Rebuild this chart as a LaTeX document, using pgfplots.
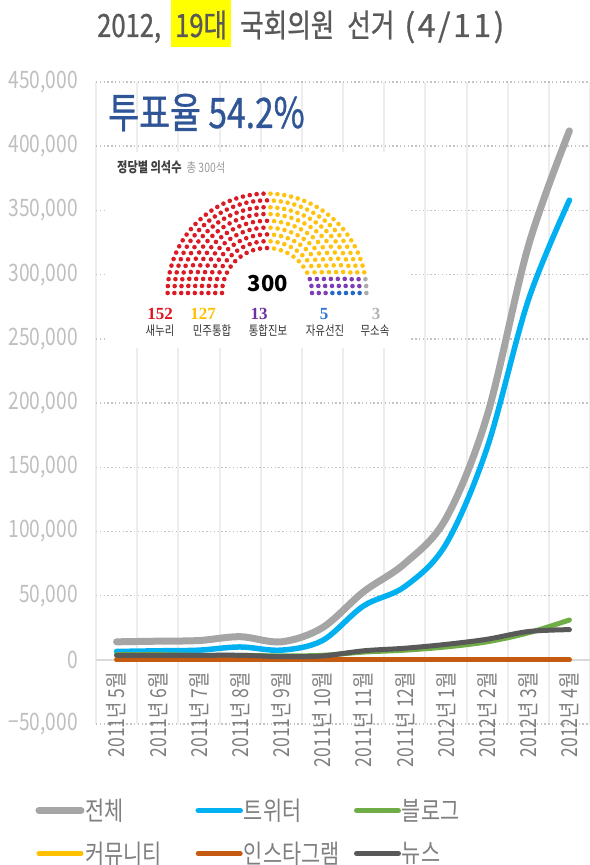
\documentclass[border=0pt]{standalone}
\usepackage{fontspec}
\usepackage{pgfplots}
\pgfplotsset{compat=1.18}
\setmainfont{Noto Sans CJK KR}[FakeStretch=0.8]
\newfontfamily\plainfont{Noto Sans CJK KR}
\newfontfamily\medfont{Noto Sans CJK KR}[FakeStretch=0.8, FakeBold=0.8]
\newfontfamily\medwide{Noto Sans CJK KR}[FakeBold=0.8]
\newfontfamily\numfont{Liberation Serif}
\definecolor{cAll}{HTML}{A5A5A5}
\definecolor{cTw}{HTML}{00B0F0}
\definecolor{cBl}{HTML}{70AD47}
\definecolor{cCo}{HTML}{FFC000}
\definecolor{cIn}{HTML}{C55A11}
\definecolor{cNe}{HTML}{595959}
\definecolor{ttl}{HTML}{595959}
\definecolor{hl}{HTML}{FFFF00}
\definecolor{ytxt}{HTML}{BFBFBF}
\definecolor{xtxt}{HTML}{7F7F7F}
\definecolor{legtxt}{HTML}{7F7F7F}
\definecolor{vgrid}{HTML}{EDEDED}
\definecolor{hgrid}{HTML}{C4C4C4}
\definecolor{zline}{HTML}{D9D9D9}
\definecolor{vote}{HTML}{2F5597}
\definecolor{seatred}{HTML}{DA1A24}
\definecolor{seatyel}{HTML}{FFC20E}
\definecolor{seatpur}{HTML}{7D3DB5}
\definecolor{seatblu}{HTML}{2468C8}
\definecolor{seatgry}{HTML}{AAAAAA}
\definecolor{n152}{HTML}{E0141E}
\definecolor{n127}{HTML}{FFC000}
\definecolor{n13}{HTML}{7030A0}
\definecolor{n5}{HTML}{2E75D6}
\definecolor{n3}{HTML}{B4B4B4}
\newcommand\fs[1]{\fontsize{#1bp}{#1bp}\selectfont}
\tikzset{seat/.style={line width=4.6bp, line cap=round, dash pattern=on 0bp off #1bp}}
\begin{document}
\begin{tikzpicture}
\path[use as bounding box] (-96bp,-141bp) rectangle (494bp,724bp);
\begin{axis}[
  name=ax, at={(0bp,0bp)}, anchor=south west,
  scale only axis, width=494bp, height=642bp,
  xmin=-0.5, xmax=11.5, ymin=-50000, ymax=450000,
  axis line style={draw=none},
  no markers,
  scaled y ticks=false,
  xtick={0,...,11},
  xticklabels={2011년 5월,2011년 6월,2011년 7월,2011년 8월,2011년 9월,2011년 10월,2011년 11월,2011년 12월,2012년 1월,2012년 2월,2012년 3월,2012년 4월},
  minor xtick={-0.5,0.5,...,11.5},
  xminorgrids,
  minor x grid style={draw=vgrid, line width=2bp, solid},
  ytick={-50000,0,...,450000},
  yticklabels={{−50,000},{0},{50,000},{100,000},{150,000},{200,000},{250,000},{300,000},{350,000},{400,000},{450,000}},
  ymajorgrids,
  major y grid style={draw=hgrid, line width=1.4bp, dash pattern=on 1.4bp off 2.4bp},
  extra y ticks={0},
  extra y tick labels={},
  extra y tick style={ymajorgrids=true, major y grid style={draw=zline, line width=2bp, solid}},
  major tick length=0pt, minor tick length=0pt,
  tick style={draw=none},
  yticklabel style={font=\fs{24}, text=ytxt, anchor=east, inner sep=0pt},
  yticklabel shift=18bp,
  xticklabel style={yshift=52bp, rotate=90, anchor=east, inner sep=0pt, font=\fs{22}, text=xtxt},
  legend columns=3,
  legend cell align=left,
  legend style={at={(-0.1225,-0.1168)}, anchor=north west, draw=none, fill=none, inner sep=0pt, outer sep=0pt,
    font=\fs{26}, text=legtxt, row sep=20bp,
    nodes={inner sep=0pt},
    /tikz/every odd column/.append style={column sep=1bp},
    /tikz/every even column/.append style={column sep=0bp}},
  legend image code/.code={\draw[#1, line cap=round] (0bp,0bp) -- (42bp,0bp);},
]
\addplot[cAll, line width=7bp, smooth, tension=0.55, line cap=round, line join=round] coordinates {
(0,14000) (1,14500) (2,15000) (3,18000) (4,14000) (5,25000) (6,53000) (7,75000) (8,110000) (9,190000) (10,322000) (11,412000)};
\addlegendentry{\makebox[110bp][l]{\rule[-8bp]{0pt}{28bp}전체}}
\addplot[cTw, line width=5.5bp, smooth, tension=0.55, line cap=round, line join=round] coordinates {
(0,6500) (1,7000) (2,7500) (3,10000) (4,7500) (5,15000) (6,42000) (7,57000) (8,90000) (9,165000) (10,280000) (11,358000)};
\addlegendentry{\makebox[110bp][l]{\rule[-8bp]{0pt}{28bp}트위터}}
\addplot[cBl, line width=5bp, smooth, tension=0.55, line cap=round, line join=round] coordinates {
(0,4000) (1,4000) (2,3500) (3,3500) (4,3000) (5,3500) (6,6000) (7,7500) (8,10000) (9,14000) (10,21000) (11,31000)};
\addlegendentry{\makebox[110bp][l]{\rule[-8bp]{0pt}{28bp}블로그}}
\addplot[cCo, line width=5bp, smooth, tension=0.55, line cap=round, line join=round] coordinates {
(0,0) (1,0) (2,0) (3,0) (4,0) (5,0) (6,0) (7,0) (8,0) (9,0) (10,0) (11,0)};
\addlegendentry{\makebox[110bp][l]{\rule[-8bp]{0pt}{28bp}커뮤니티}}
\addplot[cIn, line width=5bp, smooth, tension=0.55, line cap=round, line join=round] coordinates {
(0,0) (1,0) (2,0) (3,0) (4,0) (5,0) (6,0) (7,0) (8,0) (9,0) (10,0) (11,0)};
\addlegendentry{\makebox[110bp][l]{\rule[-8bp]{0pt}{28bp}인스타그램}}
\addplot[cNe, line width=5bp, smooth, tension=0.55, line cap=round, line join=round] coordinates {
(0,3500) (1,3500) (2,3500) (3,3500) (4,2500) (5,3000) (6,7000) (7,9000) (8,12000) (9,16000) (10,22000) (11,23500)};
\addlegendentry{\makebox[110bp][l]{\rule[-8bp]{0pt}{28bp}뉴스}}
\end{axis}
% title
\node[anchor=base west, inner sep=0pt, text=ttl] at (1bp,687bp) {\medfont\fs{32}2012,\hspace{10bp}{\setlength\fboxsep{0pt}\colorbox{hl}{\rule[-10bp]{0pt}{47bp}\hspace{4bp}19대\hspace{4bp}}}\hspace{9bp}국회의원\hspace{13bp}선거\hspace{10bp}\makebox[100bp][s]{\medwide(\hfill4\hfill/\hfill1\hfill1\hfill)}};
% inset
\node[anchor=base west, inner sep=0pt, text=vote] at (12bp,596bp) {\medfont\fs{42}투표율 54.2\%};
\fill[white] (10bp,376bp) rectangle (314bp,572bp);
\node[anchor=base west, inner sep=0pt] at (21bp,551bp) {\fs{14}\textcolor[HTML]{404040}{\bfseries 정당별 의석수}\hspace{5bp}\textcolor[HTML]{9A9A9A}{\fs{13}총 300석}};
\foreach \i in {0,...,8}{
  \pgfmathsetmacro\rr{45+6.8*\i}
  \pgfmathtruncatemacro\nn{round(pi*\rr/7.0)+1}
  \pgfmathsetmacro\DD{180/(\nn-1)}
  \pgfmathsetmacro\sd{\rr*\DD*pi/180}
  \pgfmathtruncatemacro\mm{ceil(\nn/2)}
  \pgfmathsetmacro\redend{180-(\mm-1)*\DD-0.3}
  \pgfmathsetmacro\ys{180-\mm*\DD}
  \pgfmathsetmacro\ye{3*\DD-0.3}
  \pgfmathsetmacro\bs{2*\DD}
  \pgfmathsetmacro\be{\DD-0.3}
  \draw[seatred, seat=\sd] (171bp,431bp) ++(180:\rr bp) arc[start angle=180, end angle=\redend, radius=\rr bp];
  \draw[seatyel, seat=\sd] (171bp,431bp) ++(\ys:\rr bp) arc[start angle=\ys, end angle=\ye, radius=\rr bp];
  \ifnum\i<8
    \draw[seatpur, seat=\sd] (171bp,431bp) ++(\bs:\rr bp) arc[start angle=\bs, end angle=\be, radius=\rr bp];
    \ifnum\i<3 \def\bc{seatpur}\else\def\bc{seatblu}\fi
    \draw[\bc, seat=\sd] (171bp,431bp) ++(0:\rr bp) arc[start angle=0, end angle=-0.3, radius=\rr bp];
  \else
    \draw[seatgry, seat=\sd] (171bp,431bp) ++(\bs:\rr bp) arc[start angle=\bs, end angle=-0.3, radius=\rr bp];
  \fi
}
\node[anchor=base, inner sep=0pt] at (172bp,432bp) {\plainfont\bfseries\fs{22}300};
\node[anchor=base, inner sep=0pt, text=n152] at (64bp,404bp) {\numfont\bfseries\fs{17}152};
\node[anchor=base, inner sep=0pt, text=n127] at (107bp,404bp) {\numfont\bfseries\fs{17}127};
\node[anchor=base, inner sep=0pt, text=n13] at (163bp,404bp) {\numfont\bfseries\fs{17}13};
\node[anchor=base, inner sep=0pt, text=n5] at (228bp,404bp) {\numfont\bfseries\fs{17}5};
\node[anchor=base, inner sep=0pt, text=n3] at (280bp,404bp) {\numfont\bfseries\fs{17}3};
\node[anchor=base, inner sep=0pt, text=black!80] at (64bp,388bp) {\fs{13}새누리};
\node[anchor=base, inner sep=0pt, text=black!80] at (116bp,388bp) {\fs{13}민주통합};
\node[anchor=base, inner sep=0pt, text=black!80] at (172bp,388bp) {\fs{13}통합진보};
\node[anchor=base, inner sep=0pt, text=black!80] at (229bp,388bp) {\fs{13}자유선진};
\node[anchor=base, inner sep=0pt, text=black!80] at (279bp,388bp) {\fs{13}무소속};
\end{tikzpicture}
\end{document}
